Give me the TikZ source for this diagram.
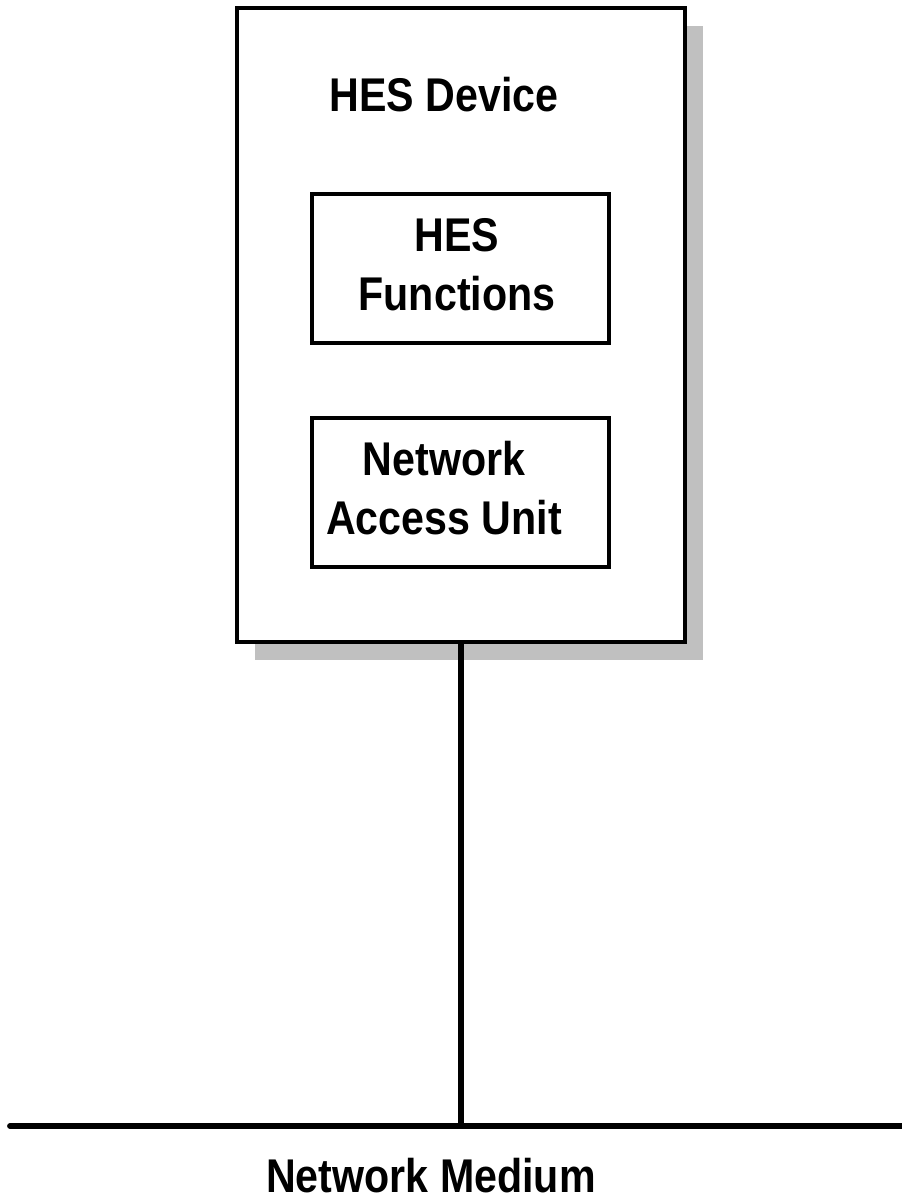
\documentclass[tikz,border=0pt]{standalone}
\usepackage{fontspec}
\setmainfont{Liberation Sans}
\newfontfamily\lblfont[FakeStretch=0.87]{Liberation Sans}
\definecolor{shade}{HTML}{C0C0C0}
\begin{document}
\begin{tikzpicture}[x=0.75pt,y=-0.75pt,
  frame/.style={draw=black,line width=3.6pt,fill=white,inner sep=0pt},
  shadowbox/.style={fill=shade,draw=none,inner sep=0pt},
  lbl/.style={font=\lblfont\fontsize{35.5}{44}\selectfont\bfseries,align=center,inner sep=0pt},
  wire/.style={draw=black,line width=4.4pt}]
  \useasboundingbox (0,0) rectangle (901,1198);

  % device housing with its drop shadow
  \node[shadowbox,minimum width=336pt,minimum height=475.5pt] (devshadow) at (479,343) {};
  \node[frame,minimum width=336pt,minimum height=475.5pt] (dev) at (461,325) {};
  \node[lbl,anchor=base] (devlabel) at (444,112) {HES Device};

  % internal blocks
  \node[frame,minimum width=222.75pt,minimum height=111.75pt] (func) at (460.5,268.5) {};
  \node[lbl] (funclabel) at (457,265) {HES\\Functions};
  \node[frame,minimum width=222.75pt,minimum height=111.75pt] (nau) at (460.5,492.5) {};
  \node[lbl] (naulabel) at (444,488) {Network\\Access Unit};

  % medium
  \coordinate (busL) at (10,1126);
  \coordinate (busR) at (910,1126);
  \coordinate (tap) at (461,1126);
  \draw[wire,line cap=round] (busL) -- (busR);
  \draw[wire] (dev.south) -- (tap);
  \node[lbl,anchor=base] (medium) at (431,1192) {Network Medium};
\end{tikzpicture}
\end{document}
